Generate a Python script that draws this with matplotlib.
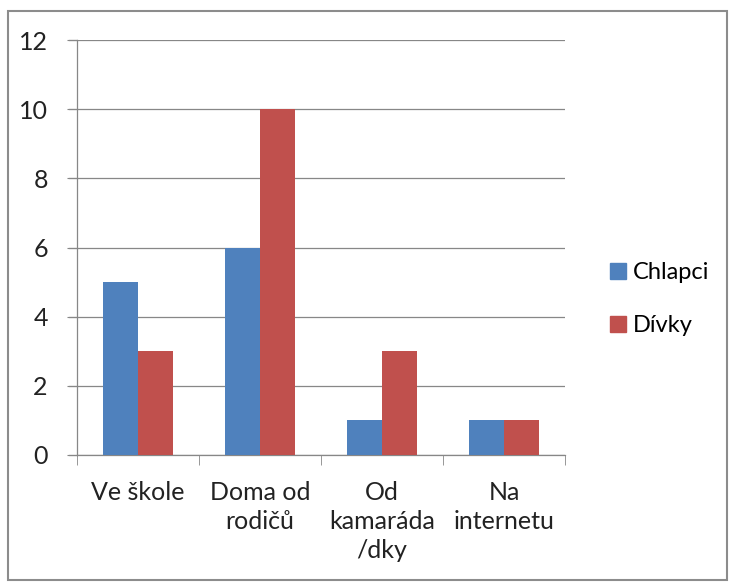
import matplotlib.pyplot as plt
import numpy as np
from matplotlib.patches import Rectangle, Patch

categories = ["Ve škole", "Doma od\nrodičů", "Od\nkamaráda\n/dky", "Na\ninternetu"]
chlapci = [5, 6, 1, 1]
divky = [3, 10, 3, 1]
yticks = [0, 2, 4, 6, 8, 10, 12]

blue = "#4F81BD"
red = "#C0504D"
grid = "#878787"

plt.rcParams["font.family"] = ["Lato", "DejaVu Sans"]

fig = plt.figure(figsize=(7.34, 5.84), dpi=100)
W, H = 734, 584
ax = fig.add_axes([77 / W, 1 - 455 / H, (565 - 77) / W, (455 - 40) / H])

x = np.arange(len(categories))
w = 0.29
ax.bar(x - w / 2, chlapci, w, color=blue, label="Chlapci", zorder=3)
ax.bar(x + w / 2, divky, w, color=red, label="Dívky", zorder=3)

ax.set_xlim(-0.5, len(categories) - 0.5)
ax.set_ylim(0, 12)
ax.set_yticks(yticks)
ax.tick_params(axis="y", length=7, color=grid, labelsize=18, pad=14, labelcolor="#222222")
ax.yaxis.grid(True, color=grid, linewidth=0.9, zorder=0)

ax.set_xticks(x)
ax.set_xticklabels(categories, fontsize=18, color="#222222", linespacing=1.3, va="top")
ax.tick_params(axis="x", length=0, pad=19)
ax.set_xticks(np.arange(-0.5, len(categories)), minor=True)
ax.tick_params(axis="x", which="minor", length=7, color=grid)

for s in ["top", "right"]:
    ax.spines[s].set_visible(False)
for s in ["left", "bottom"]:
    ax.spines[s].set_color(grid)
    ax.spines[s].set_linewidth(0.9)

# gridlines extend left over the tick area
for yv in yticks:
    ax.plot([-0.5 - 8 / 122, -0.5], [yv, yv], color=grid, linewidth=0.9, clip_on=False)

handles = [Patch(color=blue), Patch(color=red)]
fig.legend(handles, ["Chlapci", "Dívky"], loc="center left", bbox_to_anchor=(589 / W, 1 - 299 / H),
           frameon=False, fontsize=17, handlelength=0.65, handleheight=0.65, handletextpad=0.3,
           labelspacing=1.35)

fig.patches.append(Rectangle((8 / W, 1 - 580 / H), (727 - 8) / W, (580 - 11) / H,
                             transform=fig.transFigure, fill=False, edgecolor="#8c8c8c", linewidth=1.5))

fig.savefig("out.png", dpi=100)
